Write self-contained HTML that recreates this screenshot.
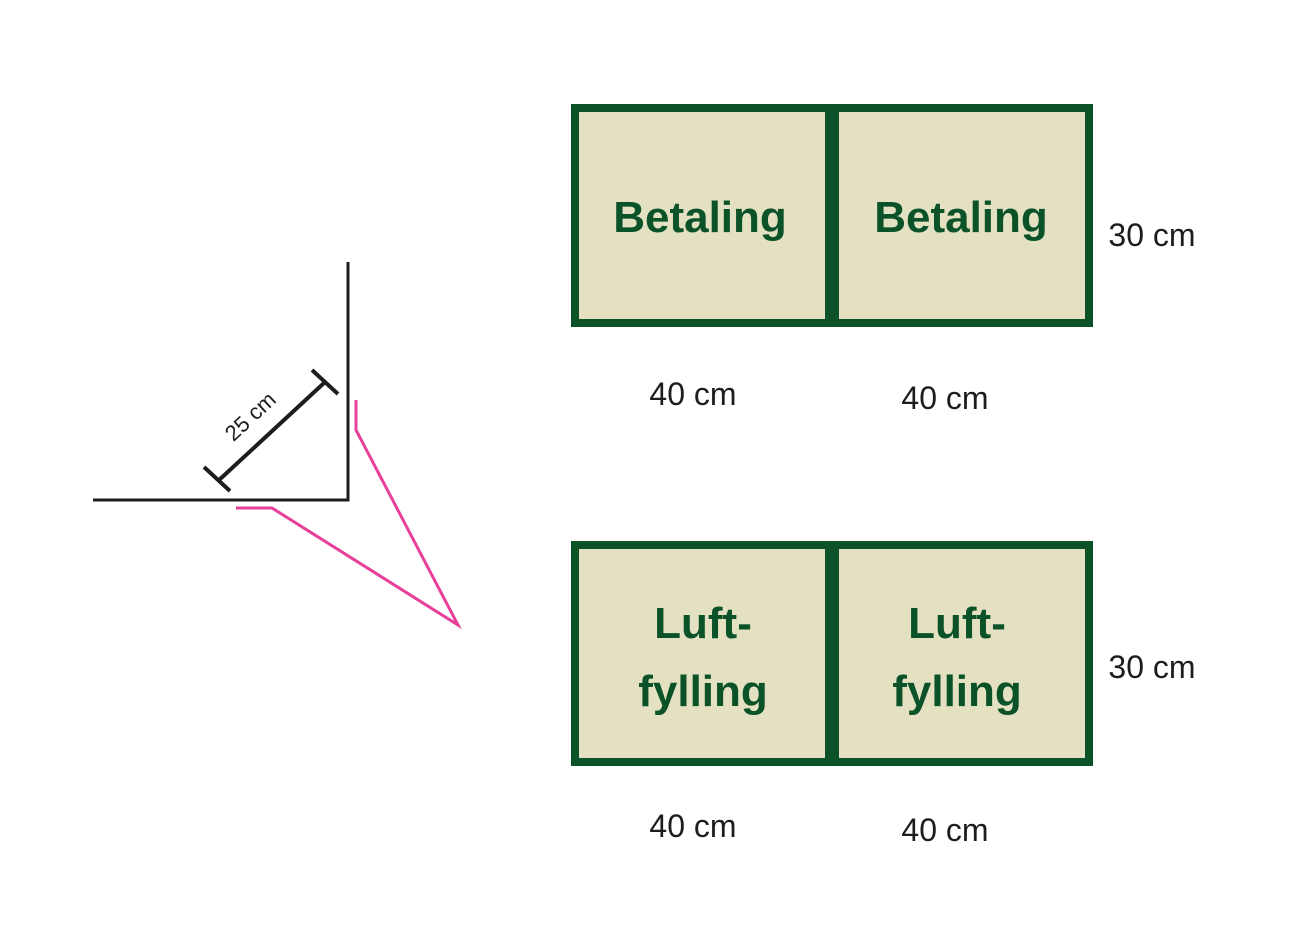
<!DOCTYPE html>
<html><head><meta charset="utf-8"><style>
body{margin:0;background:#fff;}
svg{display:block}
</style></head><body>
<svg width="1290" height="950" viewBox="0 0 1290 950" xmlns="http://www.w3.org/2000/svg">
<rect width="1290" height="950" fill="#fff"/>
<g stroke="#1d1d1b" stroke-width="3" fill="none">
<polyline points="348,262 348,500 93,500"/>
</g>
<g stroke="#1d1d1b" stroke-width="4" fill="none">
<line x1="218" y1="481" x2="324" y2="383"/>
<line x1="204" y1="467" x2="230" y2="491"/>
<line x1="312" y1="370" x2="338" y2="394"/>
</g>
<text x="250" y="424" font-family="Liberation Sans, sans-serif" font-size="22" fill="#1d1d1b" text-anchor="middle" transform="rotate(-43 250 416)">25 cm</text>
<polyline points="356,400 356,430 458,625 272,508 236,508" stroke="#e8409a" stroke-width="3" fill="none"/>
<g fill="#e3e1c1" stroke="#0b5229" stroke-width="8">
<rect x="575" y="108" width="514" height="215"/>
<rect x="575" y="545" width="514" height="217"/>
</g>
<rect x="825" y="104" width="14" height="223" fill="#0b5229"/>
<rect x="825" y="541" width="14" height="225" fill="#0b5229"/>
<g font-family="Liberation Sans, sans-serif" font-weight="bold" font-size="44" fill="#0b5229" text-anchor="middle">
<text x="700" y="232">Betaling</text>
<text x="961" y="232">Betaling</text>
<text x="703" y="638">Luft-</text>
<text x="703" y="706">fylling</text>
<text x="957" y="638">Luft-</text>
<text x="957" y="706">fylling</text>
</g>
<g font-family="Liberation Sans, sans-serif" font-size="32" fill="#1d1d1b" text-anchor="middle">
<text x="693" y="405">40 cm</text>
<text x="945" y="409">40 cm</text>
<text x="1152" y="246">30 cm</text>
<text x="693" y="837">40 cm</text>
<text x="945" y="841">40 cm</text>
<text x="1152" y="678">30 cm</text>
</g>
</svg>
</body></html>
